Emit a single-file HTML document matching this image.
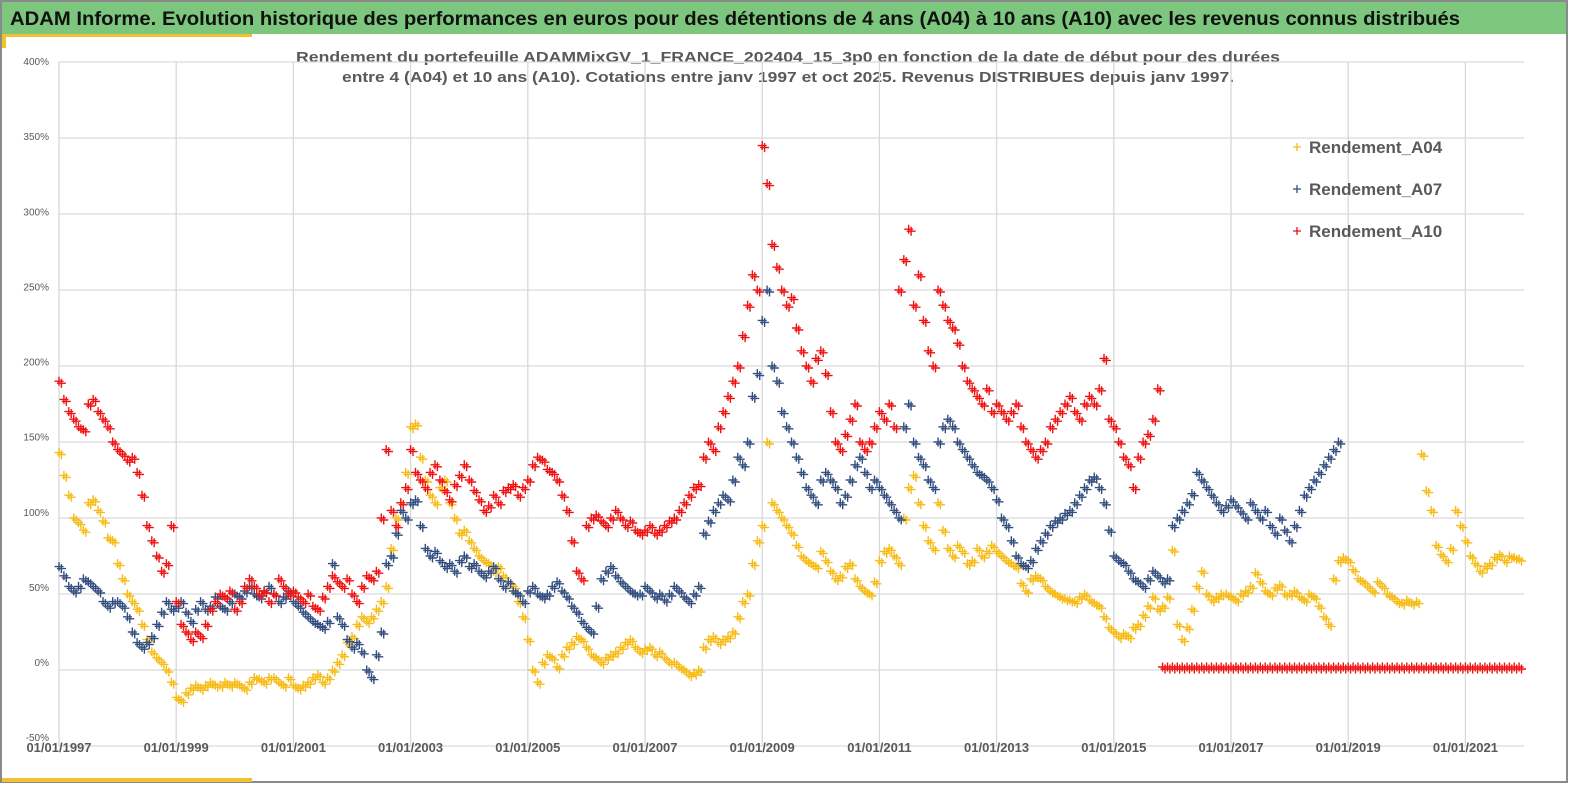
<!DOCTYPE html>
<html><head><meta charset="utf-8"><style>
html,body{margin:0;padding:0;background:#fff;}
svg{display:block;font-family:"Liberation Sans",sans-serif;}
</style></head><body>
<svg id="chart" width="1569" height="785" viewBox="0 0 1569 785" xmlns="http://www.w3.org/2000/svg">
<rect x="0" y="0" width="1569" height="785" fill="#fff"/>
<rect x="1" y="1" width="1566" height="781" fill="none" stroke="#8a8a8a" stroke-width="2"/>
<rect x="2" y="2" width="1564" height="32" fill="#7dc67d"/>
<rect x="2" y="34" width="250" height="3" fill="#f2c12e"/>
<rect x="2" y="34" width="4" height="14" fill="#f2c12e"/>
<rect x="2" y="778" width="250" height="4" fill="#f2c12e"/>
<text x="10" y="25" font-size="19.5" font-weight="bold" fill="#111" textLength="1450" lengthAdjust="spacingAndGlyphs">ADAM Informe. Evolution historique des performances en euros pour des détentions de 4 ans (A04) à 10 ans (A10) avec les revenus connus distribués</text>
<text x="788" y="62" font-size="14.5" font-weight="bold" fill="#595959" text-anchor="middle" textLength="984" lengthAdjust="spacingAndGlyphs">Rendement du portefeuille ADAMMixGV_1_FRANCE_202404_15_3p0  en fonction de la date de début pour des durées</text>
<text x="788" y="82" font-size="14.5" font-weight="bold" fill="#595959" text-anchor="middle" textLength="892" lengthAdjust="spacingAndGlyphs">entre 4 (A04) et 10 ans (A10). Cotations entre janv 1997 et oct 2025. Revenus DISTRIBUES depuis janv 1997.</text>
<g id="grid"></g>
<g id="axes"></g>
<g id="marks"></g>
<g id="legend"></g>
</svg>
<script>
const yTicks = [-50,0,50,100,150,200,250,300,350,400];
const xTickYears = [1997,1999,2001,2003,2005,2007,2009,2011,2013,2015,2017,2019,2021];
const a04Start = 1997;
const a04Values = [
143,128,115,100,97,92,110,112,105,98,87,85,
70,60,50,45,40,30,20,12,8,5,0,-8,
-18,-20,-15,-12,-10,-12,-10,-8,-10,-10,-8,-10,
-8,-10,-12,-8,-5,-6,-8,-5,-5,-8,-10,-5,
-10,-12,-10,-8,-5,-3,-8,-5,0,5,10,18,
22,30,35,32,35,40,45,55,80,100,110,130,
160,162,140,125,115,110,120,125,110,100,90,92,
85,80,75,72,70,65,68,62,58,55,45,35,
20,0,-8,5,10,8,2,10,15,18,22,20,
15,10,8,5,8,10,12,15,18,20,15,12,
14,15,10,12,8,5,5,2,0,-3,-2,0,
15,20,22,18,20,22,25,35,45,50,70,85,
95,150,110,105,100,95,90,82,75,72,70,68,
78,72,65,60,62,68,70,60,55,52,50,58,
72,78,80,75,70,100,120,128,110,95,85,80,
110,92,80,75,82,78,70,72,80,75,78,82,
78,75,72,70,68,57,52,60,62,60,55,52,
50,48,47,46,45,48,50,46,44,42,35,28,
25,22,24,22,28,30,36,42,48,40,42,48,
79,30,20,28,40,55,65,50,46,48,50,50,
48,46,50,52,55,64,58,52,50,54,56,50,
50,52,48,46,50,48,42,35,30,60,72,74,
72,66,60,58,55,52,58,55,50,48,45,44,
46,44,45,142,118,105,82,76,72,80,105,95,
85,75,70,65,68,70,74,76,72,75,74,73];
const a07Start = 1997;
const a07Values = [
68,62,55,52,55,60,58,55,52,45,42,45,
45,42,35,25,18,15,18,22,30,38,45,40,
42,45,38,32,40,45,40,42,48,42,40,45,
50,48,52,55,50,48,52,55,50,45,48,52,
45,42,38,35,32,30,28,32,70,35,30,20,
15,18,12,0,-5,10,25,70,75,90,105,100,
110,112,95,80,75,78,72,68,70,65,72,75,
68,70,65,62,65,68,60,55,58,52,50,45,
52,55,50,48,50,55,58,52,48,42,38,32,
28,25,42,60,65,68,62,58,55,52,50,50,
55,52,48,50,46,50,55,52,48,45,50,55,
90,98,105,110,115,112,125,140,135,150,180,195,
230,250,200,190,170,160,150,140,130,120,115,110,
125,130,125,120,110,115,125,135,140,130,120,125,
120,115,110,105,100,160,175,150,140,135,125,120,
150,160,165,160,150,145,140,135,130,128,125,120,
112,100,95,85,75,70,68,72,80,85,90,95,
98,100,103,105,110,115,120,125,127,120,110,92,
75,72,70,65,60,58,55,60,65,62,58,60,
95,100,105,110,116,130,125,120,115,110,105,108,
112,108,104,100,110,105,100,105,95,90,100,92,
85,95,105,115,120,125,130,135,140,145,150];
const a10Start = 1997;
const a10Values = [
190,178,170,165,160,158,175,178,170,165,160,150,
145,142,138,140,130,115,95,85,75,65,70,95,
45,30,25,20,25,22,30,40,45,50,48,52,
40,45,55,60,55,50,52,45,50,60,55,50,
52,48,45,50,42,40,48,55,62,58,55,60,
50,45,55,62,60,65,100,145,105,95,110,120,
145,130,125,120,130,135,125,118,112,122,128,135,
125,118,112,105,108,115,110,118,120,122,115,120,
125,135,140,138,132,130,125,115,105,85,65,60,
95,100,102,98,95,100,105,100,95,98,92,90,
92,95,90,92,95,98,100,105,110,115,120,122,
140,150,145,160,170,180,190,200,220,240,260,250,
345,320,280,265,250,240,245,225,210,200,190,205,
210,195,170,150,145,155,165,175,150,145,150,160,
170,165,175,160,250,270,290,240,260,230,210,200,
250,240,230,225,215,200,190,185,180,175,185,170,
175,170,165,170,175,160,150,145,140,145,150,160,
165,170,175,180,170,165,175,180,175,185,205,165,
160,150,140,135,120,140,150,155,165,185,2,2,
2,2,2,2,2,2,2,2,2,2,2,2,
2,2,2,2,2,2,2,2,2,2,2,2,
2,2,2,2,2,2,2,2,2,2,2,2,
2,2,2,2,2,2,2,2,2,2,2,2,
2,2,2,2,2,2,2,2,2,2,2,2,
2,2,2,2,2,2,2,2,2,2,2,2];
const seriesNames = ["Rendement_A04","Rendement_A07","Rendement_A10"];

const NS = "http://www.w3.org/2000/svg";
const X0 = 59, PX_PER_YEAR = 58.6, Y0 = 670, PX_PER_PCT = 1.52, XMAX = 1524;
function xScale(t){ return X0 + (t - 1997) * PX_PER_YEAR; }
function yScale(v){ return Y0 - v * PX_PER_PCT; }
function mk(tag, attrs, parent){ const e = document.createElementNS(NS, tag); for (const k in attrs) e.setAttribute(k, attrs[k]); parent.appendChild(e); return e; }
function r(n){ return Math.round(n * 10) / 10; }

const grid = document.getElementById('grid');
const axes = document.getElementById('axes');
yTicks.forEach(v => {
  const l = mk('line', {x1: X0, x2: XMAX, y1: yScale(v), y2: yScale(v), stroke: '#d9d9d9', 'stroke-width': 1.3}, grid);
  
  
  const t = mk('text', {x: 49, y: yScale(v) - 4 + 7 * v / 400, 'font-size': 10, fill: '#595959', 'text-anchor': 'end'}, axes);
  t.textContent = v + '%';
  
  
});
xTickYears.forEach(yr => {
  const x = xScale(yr);
  const l = mk('line', {x1: x, x2: x, y1: yScale(400), y2: yScale(-50), stroke: '#d9d9d9', 'stroke-width': 1.3}, grid);
  
  
  const t = mk('text', {x: x, y: 752, 'font-size': 13, 'font-weight': 'bold', fill: '#595959', 'text-anchor': 'middle'}, axes);
  t.textContent = '01/01/' + yr;
  
  
});

const marks = document.getElementById('marks');
function plusPath(x, y, s){ return 'M' + r(x - s) + ' ' + r(y) + 'H' + r(x + s) + 'M' + r(x) + ' ' + r(y - s) + 'V' + r(y + s); }
function drawSeries(start, values, color, name){
  const g = mk('g', {}, marks);
  
  
  let d = '';
  values.forEach((v, i) => {
    if (v === null) return;
    const x = xScale(start + i / 12), y = yScale(v);
    d += plusPath(x, y, 4.5);
    d += plusPath(x + 2.4, y + 2, 4.5);
  });
  const p = mk('path', {d: d, stroke: color, 'stroke-width': 1.4, fill: 'none'}, g);
  
  
}
drawSeries(a04Start, a04Values, '#f7bb15', 'series-a04');
drawSeries(a07Start, a07Values, '#324e7f', 'series-a07');
drawSeries(a10Start, a10Values, '#f01010', 'series-a10');

const legend = document.getElementById('legend');
const legColors = ['#f7bb15', '#324e7f', '#f01010'];
const legY = [147, 189, 231];
seriesNames.forEach((n, i) => {
  const g = mk('g', {}, legend);
  
  
  const p = mk('path', {d: plusPath(1297, legY[i], 4), stroke: legColors[i], 'stroke-width': 1.3}, g);
  
  
  const t = mk('text', {x: 1309, y: legY[i] + 6, 'font-size': 17, 'font-weight': 'bold', fill: '#595959'}, g);
  t.textContent = n;
  
  
});
</script>
</body></html>
